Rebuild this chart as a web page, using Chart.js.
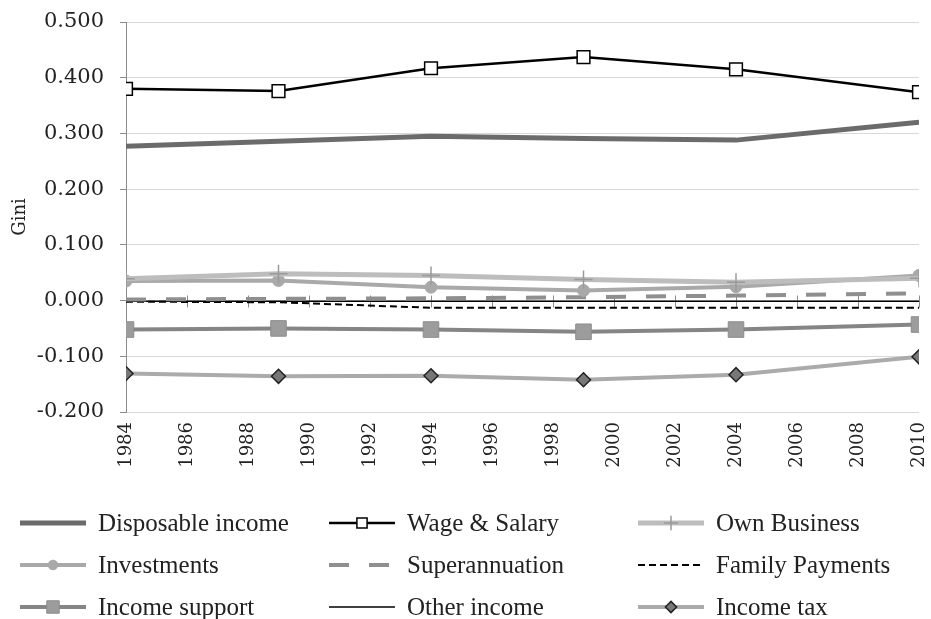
<!DOCTYPE html>
<html>
<head>
<meta charset="utf-8">
<script src="https://cdn.jsdelivr.net/npm/chart.js@4.4.1/dist/chart.umd.min.js"></script>
<style>
  html, body { margin: 0; padding: 0; background: #fff; }
  #chart { display: block; }
</style>
</head>
<body>
<canvas id="chart" width="931" height="619"></canvas>
<script>
// survey years and Gini contribution by income source
const years = [1984, 1989, 1994, 1999, 2004, 2010];
const disposableIncome = [0.277, 0.286, 0.295, 0.291, 0.288, 0.320];
const wageSalary = [0.380, 0.376, 0.417, 0.437, 0.415, 0.374];
const ownBusiness = [0.039, 0.048, 0.045, 0.038, 0.033, 0.040];
const investments = [0.035, 0.036, 0.024, 0.018, 0.025, 0.045];
const superannuation = [0.002, 0.003, 0.004, 0.006, 0.009, 0.013];
const familyPayments = [-0.002, -0.003, -0.013, -0.013, -0.013, -0.013];
const incomeSupport = [-0.052, -0.050, -0.052, -0.056, -0.052, -0.043];
const otherIncome = [-0.001, -0.001, -0.001, -0.001, -0.001, -0.001];
const incomeTax = [-0.131, -0.136, -0.135, -0.142, -0.133, -0.101];

const yMin = -0.2, yMax = 0.5, yStep = 0.1;
const xMin = 1984, xMax = 2010, xStep = 2;

const pts = (vals) => years.map((x, i) => ({ x, y: vals[i] }));

const line = (label, vals, style) => Object.assign({
  label,
  data: pts(vals),
  pointRadius: 0,
  pointHoverRadius: 0,
  fill: false,
  tension: 0,
  borderCapStyle: 'butt',
  borderJoinStyle: 'round',
}, style);

const datasets = [
  line('Disposable income', disposableIncome, { borderColor: '#6b6b6b', borderWidth: 5 }),
  line('Wage & Salary', wageSalary, {
    borderColor: '#000', borderWidth: 2.5,
    pointStyle: 'rect', pointRadius: 9, pointBackgroundColor: '#fff',
    pointBorderColor: '#000', pointBorderWidth: 1.5,
  }),
  line('Own Business', ownBusiness, {
    borderColor: '#bdbdbd', borderWidth: 5,
    pointStyle: 'cross', pointRadius: 9, pointBorderColor: '#9a9a9a', pointBorderWidth: 1.5,
  }),
  line('Investments', investments, {
    borderColor: '#a9a9a9', borderWidth: 4,
    pointStyle: 'circle', pointRadius: 6, pointBackgroundColor: '#a9a9a9',
    pointBorderColor: '#a9a9a9', pointBorderWidth: 1,
  }),
  line('Superannuation', superannuation, { borderColor: '#8f8f8f', borderWidth: 4, borderDash: [20, 20] }),
  line('Family Payments', familyPayments, { borderColor: '#000', borderWidth: 2, borderDash: [7, 4] }),
  line('Income support', incomeSupport, {
    borderColor: '#858585', borderWidth: 4,
    pointStyle: 'rect', pointRadius: 11, pointBackgroundColor: '#9c9c9c',
    pointBorderColor: '#8c8c8c', pointBorderWidth: 1,
  }),
  line('Other income', otherIncome, { borderColor: '#000', borderWidth: 1.5 }),
  line('Income tax', incomeTax, {
    borderColor: '#ababab', borderWidth: 4,
    pointStyle: 'rectRot', pointRadius: 7, pointBackgroundColor: '#777',
    pointBorderColor: '#222', pointBorderWidth: 1.5,
  }),
];

// horizontal axis drawn through zero, with cross ticks every two years
const zeroAxis = {
  id: 'zeroAxis',
  beforeDatasetsDraw(chart) {
    const { ctx, chartArea, scales: { x, y } } = chart;
    const y0 = Math.round(y.getPixelForValue(0)) + 0.5;
    ctx.save();
    ctx.strokeStyle = '#8c8c8c';
    ctx.lineWidth = 1;
    ctx.beginPath();
    ctx.moveTo(chartArea.left, y0);
    ctx.lineTo(chartArea.right, y0);
    x.ticks.forEach((t) => {
      const px = Math.round(x.getPixelForValue(t.value)) + 0.5;
      ctx.moveTo(px, y0 - 6);
      ctx.lineTo(px, y0 + 6);
    });
    ctx.stroke();
    ctx.restore();
  },
};

// three-column legend under the axis labels
const legendCols = [20, 329, 638];
const legendRows = [523, 565, 607];
const sampleLen = 66;
const textOffset = 78;

const gridLegend = {
  id: 'gridLegend',
  afterDraw(chart) {
    const { ctx } = chart;
    ctx.save();
    ctx.font = '25px "Liberation Serif", serif';
    ctx.textBaseline = 'middle';
    ctx.fillStyle = '#222';
    chart.data.datasets.forEach((ds, i) => {
      const x0 = legendCols[i % 3];
      const y = legendRows[Math.floor(i / 3)];
      ctx.save();
      ctx.strokeStyle = ds.borderColor;
      ctx.lineWidth = ds.borderWidth;
      ctx.setLineDash(ds.borderDash || []);
      ctx.lineCap = 'butt';
      ctx.beginPath();
      ctx.moveTo(x0, y);
      ctx.lineTo(x0 + sampleLen, y);
      ctx.stroke();
      ctx.setLineDash([]);
      if (ds.pointRadius > 0) {
        ctx.fillStyle = ds.pointBackgroundColor || ds.borderColor;
        ctx.strokeStyle = ds.pointBorderColor || ds.borderColor;
        ctx.lineWidth = ds.pointBorderWidth || 1;
        Chart.helpers.drawPoint(ctx, {
          pointStyle: ds.pointStyle,
          radius: ds.pointRadius * 0.8,
          rotation: 0,
          borderWidth: ds.pointBorderWidth || 1,
        }, x0 + sampleLen / 2, y);
      }
      ctx.restore();
      ctx.fillText(ds.label, x0 + textOffset, y + 1);
    });
    ctx.restore();
  },
};

new Chart(document.getElementById('chart'), {
  type: 'line',
  data: { datasets },
  plugins: [zeroAxis, gridLegend],
  options: {
    responsive: false,
    animation: false,
    events: [],
    layout: { padding: { top: 22, right: 11, left: 0, bottom: 0 } },
    plugins: {
      legend: { display: false },
      tooltip: { enabled: false },
    },
    scales: {
      x: {
        type: 'linear',
        min: xMin,
        max: xMax,
        afterFit(scale) {
          scale.height = 207;
          scale.paddingLeft = 0;
          scale.paddingRight = 0;
        },
        afterBuildTicks(scale) {
          scale.ticks = [];
          for (let v = xMin; v <= xMax; v += xStep) scale.ticks.push({ value: v });
        },
        ticks: {
          stepSize: xStep,
          minRotation: 90,
          maxRotation: 90,
          padding: 10,
          color: '#222',
          font: { family: '"DejaVu Serif", serif', size: 18 },
          callback: (v) => String(v),
        },
        grid: { display: false, drawTicks: false },
        border: { display: false },
      },
      y: {
        min: yMin,
        max: yMax,
        afterFit(scale) {
          scale.width = 126;
          scale.paddingTop = 0;
          scale.paddingBottom = 0;
        },
        ticks: {
          stepSize: yStep,
          padding: 16,
          color: '#222',
          font: { family: '"DejaVu Serif", serif', size: 21 },
          callback: (v) => (Math.abs(v) < 1e-9 ? 0 : v).toFixed(3),
        },
        grid: { color: '#d9d9d9', lineWidth: 1, tickLength: 6, tickColor: '#8c8c8c' },
        border: { display: true, color: '#8c8c8c', width: 1 },
        title: {
          display: true,
          text: 'Gini',
          color: '#222',
          padding: { top: 10, bottom: 0 },
          font: { family: '"DejaVu Serif", serif', size: 18 },
        },
      },
    },
  },
});
</script>
</body>
</html>
